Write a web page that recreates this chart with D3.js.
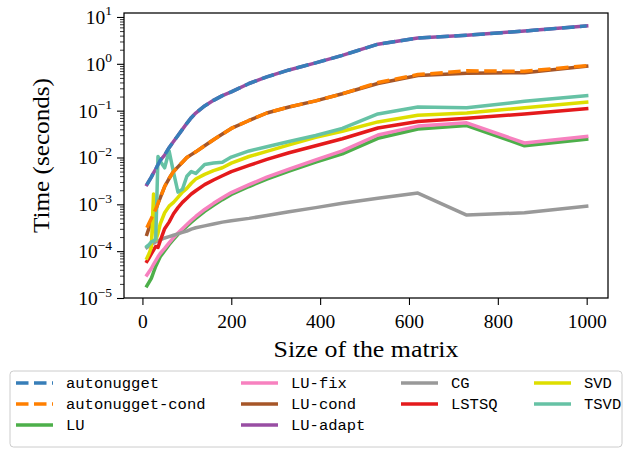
<!DOCTYPE html>
<html>
<head>
<meta charset="utf-8">
<script src="https://cdn.jsdelivr.net/npm/d3@7"></script>
<style>
  html, body { margin: 0; padding: 0; background: #fff; }
  svg { display: block; }
  .tick text { font-family: "Liberation Serif", serif; }
</style>
</head>
<body>
<div id="chart"></div>
<script>
// Matrix sizes (x values)
const sizes = [10, 15, 20, 25, 30, 35, 40, 50, 60, 70, 80, 90, 100, 110, 120, 140, 160, 180, 200, 240, 280, 330, 390, 450, 530, 620, 730, 860, 1000];

// Timings in seconds, one array per method
const autonugget = [2.63e-3, 3.16e-3, 3.8e-3, 4.68e-3, 5.62e-3, 7.08e-3, 8.7e-3, 1.12e-2, 1.62e-2, 2.19e-2, 2.95e-2, 3.98e-2, 5.37e-2, 7.08e-2, 8.9e-2, 0.126, 0.166, 0.209, 0.251, 0.38, 0.525, 0.74, 1.05, 1.51, 2.63, 3.55, 4.07, 5.01, 6.46];
const autonuggetCond = [3.16e-4, 3.98e-4, 5.01e-4, 6.31e-4, 7.94e-4, 1.05e-3, 1.38e-3, 2.4e-3, 3.55e-3, 5.01e-3, 6.31e-3, 7.94e-3, 1.0e-2, 1.15e-2, 1.32e-2, 1.78e-2, 2.4e-2, 3.16e-2, 4.17e-2, 6.17e-2, 8.91e-2, 0.12, 0.162, 0.229, 0.398, 0.589, 0.708, 0.692, 0.912];
const lu = [1.82e-5, 2.19e-5, 2.63e-5, 3.55e-5, 4.79e-5, 6.03e-5, 7.59e-5, 1.02e-4, 1.38e-4, 1.78e-4, 2.29e-4, 2.82e-4, 3.39e-4, 4.17e-4, 5.01e-4, 7.08e-4, 9.55e-4, 1.26e-3, 1.62e-3, 2.4e-3, 3.47e-3, 5.13e-3, 7.94e-3, 1.2e-2, 2.57e-2, 4.07e-2, 4.79e-2, 1.78e-2, 2.45e-2];
const luFix = [3.09e-5, 3.63e-5, 4.27e-5, 5.25e-5, 6.31e-5, 7.59e-5, 8.91e-5, 1.15e-4, 1.51e-4, 1.95e-4, 2.45e-4, 3.02e-4, 3.72e-4, 4.57e-4, 5.5e-4, 7.76e-4, 1.05e-3, 1.38e-3, 1.78e-3, 2.63e-3, 3.8e-3, 5.62e-3, 8.91e-3, 1.38e-2, 3.02e-2, 4.68e-2, 5.5e-2, 2.04e-2, 2.82e-2];
const luCond = [2.29e-4, 3.16e-4, 4.37e-4, 5.75e-4, 7.59e-4, 1.05e-3, 1.38e-3, 2.4e-3, 3.55e-3, 5.01e-3, 6.31e-3, 7.94e-3, 1.0e-2, 1.15e-2, 1.32e-2, 1.78e-2, 2.4e-2, 3.16e-2, 4.17e-2, 6.17e-2, 8.91e-2, 0.12, 0.162, 0.229, 0.38, 0.562, 0.631, 0.646, 0.89];
const luAdapt = [2.63e-3, 3.16e-3, 3.8e-3, 4.68e-3, 5.62e-3, 7.08e-3, 8.7e-3, 1.12e-2, 1.62e-2, 2.19e-2, 2.95e-2, 3.98e-2, 5.37e-2, 7.08e-2, 8.9e-2, 0.126, 0.166, 0.209, 0.251, 0.38, 0.525, 0.74, 1.05, 1.51, 2.63, 3.55, 4.07, 5.01, 6.46];
const cg = [1.2e-4, 1.29e-4, 1.38e-4, 1.48e-4, 1.58e-4, 1.66e-4, 1.74e-4, 1.91e-4, 2.04e-4, 2.19e-4, 2.34e-4, 2.51e-4, 2.69e-4, 2.95e-4, 3.16e-4, 3.47e-4, 3.8e-4, 4.17e-4, 4.47e-4, 5.01e-4, 5.75e-4, 6.92e-4, 8.51e-4, 1.05e-3, 1.35e-3, 1.74e-3, 5.89e-4, 6.61e-4, 9.12e-4];
const lstsq = [6.03e-5, 7.24e-5, 8.71e-5, 1.05e-4, 1.26e-4, 1.2e-4, 1.66e-4, 3.02e-4, 4.17e-4, 6.31e-4, 8.51e-4, 1.1e-3, 1.35e-3, 1.66e-3, 1.95e-3, 2.63e-3, 3.31e-3, 4.07e-3, 5.01e-3, 6.76e-3, 9.12e-3, 1.26e-2, 1.78e-2, 2.51e-2, 4.27e-2, 5.89e-2, 6.92e-2, 8.51e-2, 0.11];
const svd = [7.08e-5, 8.91e-5, 1.2e-4, 1.66e-3, 1.74e-4, 2.4e-4, 3.8e-4, 6.61e-4, 9.12e-4, 1.1e-3, 1.41e-3, 1.82e-3, 2.19e-3, 2.82e-3, 3.47e-3, 4.37e-3, 5.25e-3, 6.03e-3, 7.59e-3, 1.05e-2, 1.35e-2, 1.86e-2, 2.69e-2, 3.63e-2, 5.75e-2, 7.94e-2, 8.91e-2, 0.115, 0.151];
const tsvd = [1.26e-4, 1.38e-4, 1.58e-4, 1.66e-4, 1.82e-4, 1.05e-2, 8.32e-3, 6.03e-3, 1.38e-2, 4.79e-3, 1.82e-3, 2.09e-3, 3.98e-3, 5.01e-3, 4.57e-3, 7.08e-3, 7.59e-3, 7.94e-3, 1.02e-2, 1.38e-2, 1.7e-2, 2.19e-2, 2.95e-2, 4.17e-2, 8.51e-2, 0.12, 0.115, 0.158, 0.209];

// Axis ticks
const xTicks = [0, 200, 400, 600, 800, 1000];
const yExponents = [-5, -4, -3, -2, -1, 0, 1];

// Series in legend order
const series = [
  { name: "autonugget",      values: autonugget,     color: "#377eb8", dashed: true },
  { name: "autonugget-cond", values: autonuggetCond, color: "#ff7f00", dashed: true },
  { name: "LU",              values: lu,             color: "#4daf4a", dashed: false },
  { name: "LU-fix",          values: luFix,          color: "#f781bf", dashed: false },
  { name: "LU-cond",         values: luCond,         color: "#a65628", dashed: false },
  { name: "LU-adapt",        values: luAdapt,        color: "#984ea3", dashed: false },
  { name: "CG",              values: cg,             color: "#999999", dashed: false },
  { name: "LSTSQ",           values: lstsq,          color: "#e41a1c", dashed: false },
  { name: "SVD",             values: svd,            color: "#dede00", dashed: false },
  { name: "TSVD",            values: tsvd,           color: "#66c2a5", dashed: false }
];

const W = 626, H = 454;
const plot = { left: 124, top: 13, right: 608, bottom: 298 };
const LW = 3.5;
const DASH = "12.5,5.5";

const svg = d3.select("#chart").append("svg")
  .attr("width", W).attr("height", H)
  .attr("viewBox", `0 0 ${W} ${H}`);

const x = d3.scaleLinear().domain([-41.5, 1048]).range([plot.left, plot.right]);
const y = d3.scaleLog().domain([1e-5, Math.pow(10, 1.085)]).range([plot.bottom, plot.top]);

const clip = svg.append("clipPath").attr("id", "plotclip")
  .append("rect")
  .attr("x", plot.left).attr("y", plot.top)
  .attr("width", plot.right - plot.left).attr("height", plot.bottom - plot.top);

// Lines: solid methods first, dashed autonugget variants on top
const line = d3.line()
  .x((d, i) => x(sizes[i]))
  .y(d => y(d));

const lineLayer = svg.append("g").attr("clip-path", "url(#plotclip)");
const drawOrder = series.filter(s => !s.dashed).concat(series.filter(s => s.dashed));
lineLayer.selectAll("path")
  .data(drawOrder)
  .join("path")
  .attr("d", s => line(s.values))
  .attr("fill", "none")
  .attr("stroke", s => s.color)
  .attr("stroke-width", LW)
  .attr("stroke-linejoin", "round")
  .attr("stroke-linecap", s => s.dashed ? "butt" : "square")
  .attr("stroke-dasharray", s => s.dashed ? DASH : null);

// X axis
const xAxis = d3.axisBottom(x)
  .tickValues(xTicks)
  .tickSize(7)
  .tickPadding(9)
  .tickFormat(d3.format("d"));
const gx = svg.append("g")
  .attr("transform", `translate(0,${plot.bottom})`)
  .call(xAxis);
gx.select(".domain").remove();
gx.selectAll(".tick line").attr("stroke", "#000").attr("stroke-width", 1.1);
gx.selectAll(".tick text")
  .attr("fill", "#000")
  .style("font-family", "'Liberation Serif', serif")
  .style("font-size", "19.5px");

// Y axis: minor ticks
const minorVals = [];
for (let e = -5; e <= 1; e++) {
  for (let m = 2; m <= 9; m++) {
    const v = m * Math.pow(10, e);
    if (v <= y.domain()[1]) minorVals.push(v);
  }
}
const gyMinor = svg.append("g")
  .attr("transform", `translate(${plot.left},0)`)
  .call(d3.axisLeft(y).tickValues(minorVals).tickSize(4).tickFormat(""));
gyMinor.select(".domain").remove();
gyMinor.selectAll(".tick line").attr("stroke", "#000").attr("stroke-width", 0.8);

// Y axis: major ticks with powers of ten
const yAxis = d3.axisLeft(y)
  .tickValues(yExponents.map(e => Math.pow(10, e)))
  .tickSize(7)
  .tickPadding(5)
  .tickFormat("");
const gy = svg.append("g")
  .attr("transform", `translate(${plot.left},0)`)
  .call(yAxis);
gy.select(".domain").remove();
gy.selectAll(".tick line").attr("stroke", "#000").attr("stroke-width", 1.1);
gy.selectAll(".tick").each(function(d) {
  const e = Math.round(Math.log10(d));
  const t = d3.select(this).select("text")
    .attr("fill", "#000")
    .attr("dy", null)
    .attr("y", 6.5)
    .style("font-family", "'Liberation Serif', serif")
    .style("font-size", "19.5px");
  t.text(null);
  t.append("tspan").text("10");
  t.append("tspan")
    .attr("dy", -8.5)
    .style("font-size", "13.5px")
    .text(e < 0 ? "\u2212" + Math.abs(e) : String(e));
});

// Frame
svg.append("rect")
  .attr("x", plot.left).attr("y", plot.top)
  .attr("width", plot.right - plot.left).attr("height", plot.bottom - plot.top)
  .attr("fill", "none")
  .attr("stroke", "#000")
  .attr("stroke-width", 1.25);

// Axis titles
svg.append("text")
  .attr("x", (plot.left + plot.right) / 2)
  .attr("y", 357)
  .attr("text-anchor", "middle")
  .attr("textLength", 185)
  .attr("lengthAdjust", "spacingAndGlyphs")
  .style("font-family", "'Liberation Serif', serif")
  .style("font-size", "23px")
  .text("Size of the matrix");

svg.append("text")
  .attr("transform", `translate(49,${(plot.top + plot.bottom) / 2}) rotate(-90)`)
  .attr("text-anchor", "middle")
  .attr("textLength", 155)
  .attr("lengthAdjust", "spacingAndGlyphs")
  .style("font-family", "'Liberation Serif', serif")
  .style("font-size", "23px")
  .text("Time (seconds)");

// Legend
const legend = { left: 10, top: 371, right: 622, bottom: 447 };
const colX = [16, 241, 401, 534];
const rowY = [383, 404, 425];
const handleLen = 37;
const textGap = 13;
const perCol = [3, 3, 2, 2];

svg.append("rect")
  .attr("x", legend.left).attr("y", legend.top)
  .attr("width", legend.right - legend.left)
  .attr("height", legend.bottom - legend.top)
  .attr("rx", 3.5)
  .attr("fill", "#fff")
  .attr("stroke", "#cccccc")
  .attr("stroke-width", 1);

let idx = 0;
const items = [];
perCol.forEach((n, c) => {
  for (let r = 0; r < n; r++) {
    items.push({ s: series[idx++], cx: colX[c], cy: rowY[r] });
  }
});

const li = svg.append("g").selectAll("g")
  .data(items)
  .join("g")
  .attr("transform", d => `translate(${d.cx},${d.cy})`);
li.append("line")
  .attr("x1", 0).attr("x2", handleLen)
  .attr("y1", 0).attr("y2", 0)
  .attr("stroke", d => d.s.color)
  .attr("stroke-width", LW)
  .attr("stroke-dasharray", d => d.s.dashed ? DASH : null);
li.append("text")
  .attr("x", handleLen + textGap)
  .attr("y", 5)
  .style("font-family", "'Liberation Mono', monospace")
  .style("font-size", "15.5px")
  .text(d => d.s.name);
</script>
</body>
</html>
